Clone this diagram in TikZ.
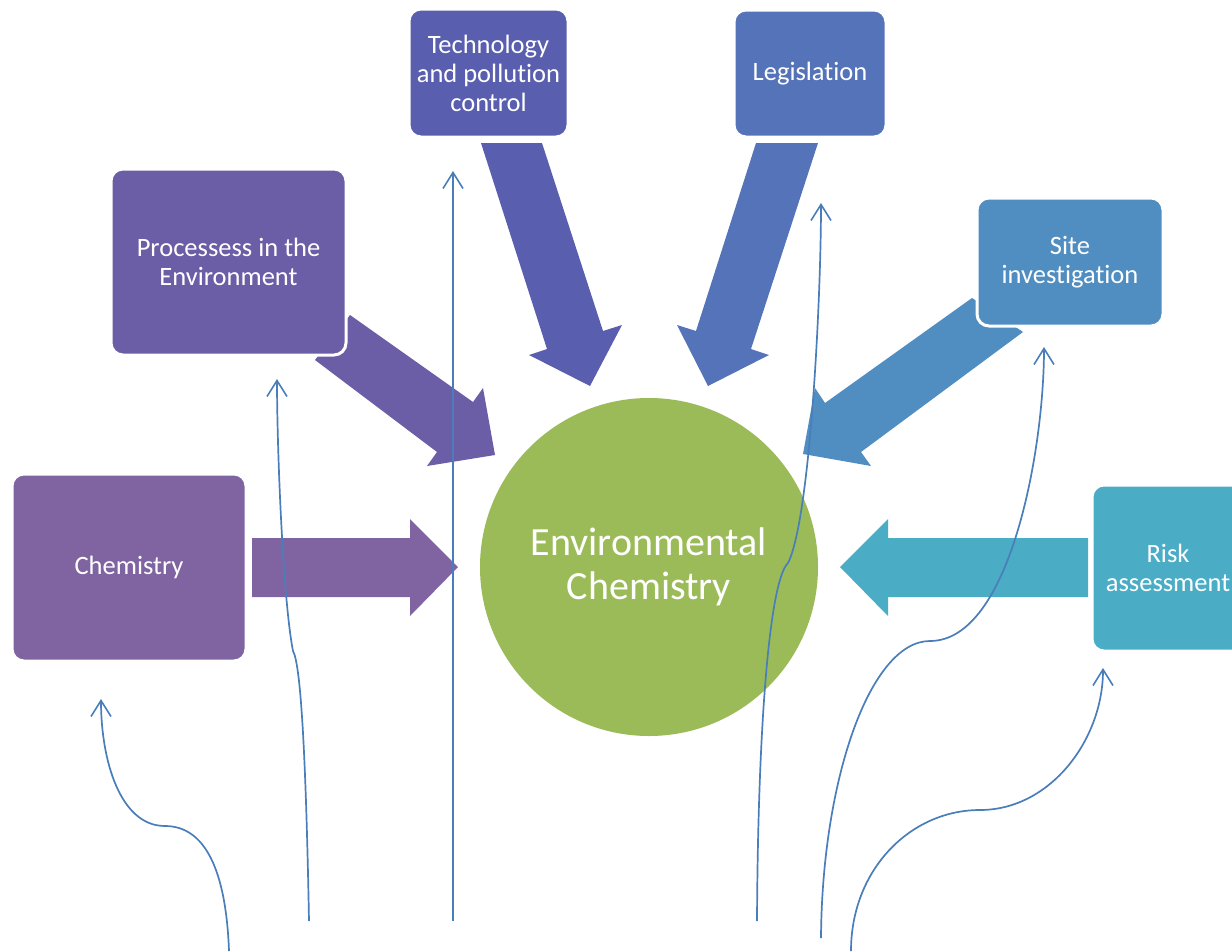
\documentclass[tikz,border=0pt]{standalone}
\usepackage{fontspec}
\setmainfont[Ligatures=NoCommon]{Carlito}
\usetikzlibrary{arrows.meta}
\definecolor{cchem}{HTML}{8064A2}
\definecolor{cproc}{HTML}{6B5EA7}
\definecolor{ctech}{HTML}{5A5EAE}
\definecolor{clegis}{HTML}{5573B9}
\definecolor{csite}{HTML}{508DC0}
\definecolor{crisk}{HTML}{4BACC6}
\definecolor{ccirc}{HTML}{9BBB59}
\definecolor{cline}{HTML}{4A7EBB}
\tikzset{
  box/.style={rectangle, rounded corners=12pt, draw=white, line width=3pt, text=white,
    align=center, inner sep=0pt, font=\fontsize{26.5}{29}\selectfont},
  thin/.style={draw=cline, line width=1.7pt,
    -{Straight Barb[length=16pt,width=20pt,line width=1.6pt]}}
}
\begin{document}
\begin{tikzpicture}[x=1pt,y=-1pt]
\useasboundingbox (0,0) rectangle (1232,951);
\clip (0,0) rectangle (1232,951);
% block arrows
\fill[cchem] (252,538) -- (410,538) -- (410,519) -- (458,567) -- (410,616) -- (410,597) -- (252,597) -- cycle;
\fill[crisk] (1088,538) -- (888,538) -- (888,519) -- (840,567) -- (888,616) -- (888,597) -- (1088,597) -- cycle;
\fill[cproc] (350,315) -- (473,402) -- (483,388) -- (495,455) -- (427,466) -- (437,452) -- (315,360) -- cycle;
\fill[csite] (972,298) -- (825,403) -- (815,388) -- (803,454) -- (871,466) -- (861,452) -- (1023,332) -- cycle;
\fill[ctech] (481,143) -- (542,143) -- (603,331) -- (622,325) -- (590,386) -- (529,355) -- (547,349) -- cycle;
\fill[clegis] (756,143) -- (818,143) -- (751,349) -- (769,355) -- (708,386) -- (677,325) -- (696,331) -- cycle;
% boxes
\node[box, fill=cchem, minimum width=234pt, minimum height=187pt] (chem) at (129,567.5) {Chemistry};
\node[box, fill=cproc, minimum width=235pt, minimum height=186pt] (proc) at (228.5,262) {Processess in the\\Environment};
\node[box, fill=ctech, minimum width=159pt, minimum height=128pt] (tech) at (488.5,73) {Technology\\and pollution\\control};
\node[box, fill=clegis, minimum width=152pt, minimum height=127pt] (legis) at (810,73.5) {Legislation};
\node[box, fill=csite, minimum width=186pt, minimum height=128pt] (site) at (1070,262) {Site\\investigation};
\node[box, fill=crisk, minimum width=152pt, minimum height=166pt] (risk) at (1168,568) {Risk\\assessment};
% circle
\node[circle, fill=ccirc, minimum size=338pt, inner sep=0pt, text=white, align=center,
  font=\fontsize{40}{44}\selectfont] (env) at (649,567) {Environmental\\Chemistry};
% thin curves
\coordinate (a0) at (229,951); \coordinate (a1) at (101,699);
\coordinate (b0) at (309,921); \coordinate (b1) at (277,379);
\coordinate (c0) at (453,921); \coordinate (c1) at (453,171);
\coordinate (d0) at (757,921); \coordinate (d1) at (821,203);
\coordinate (e0) at (821,938); \coordinate (e1) at (1044,347);
\coordinate (f0) at (851,951); \coordinate (f1) at (1103,668);
\draw[thin] (a0) .. controls (226,870) and (205,826) .. (165,826) .. controls (120,826) and (101,760) .. (a1);
\draw[thin] (b0) .. controls (306,760) and (301,665) .. (293,651) .. controls (283,600) and (277,450) .. (b1);
\draw[thin] (c0) -- (c1);
\draw[thin] (d0) .. controls (758,720) and (770,580) .. (788,563) .. controls (810,520) and (821,300) .. (d1);
\draw[thin] (e0) .. controls (822,780) and (870,641) .. (930,641) .. controls (1010,641) and (1044,450) .. (e1);
\draw[thin] (f0) .. controls (851,870) and (910,810) .. (980,810) .. controls (1050,810) and (1103,740) .. (f1);
\end{tikzpicture}
\end{document}
